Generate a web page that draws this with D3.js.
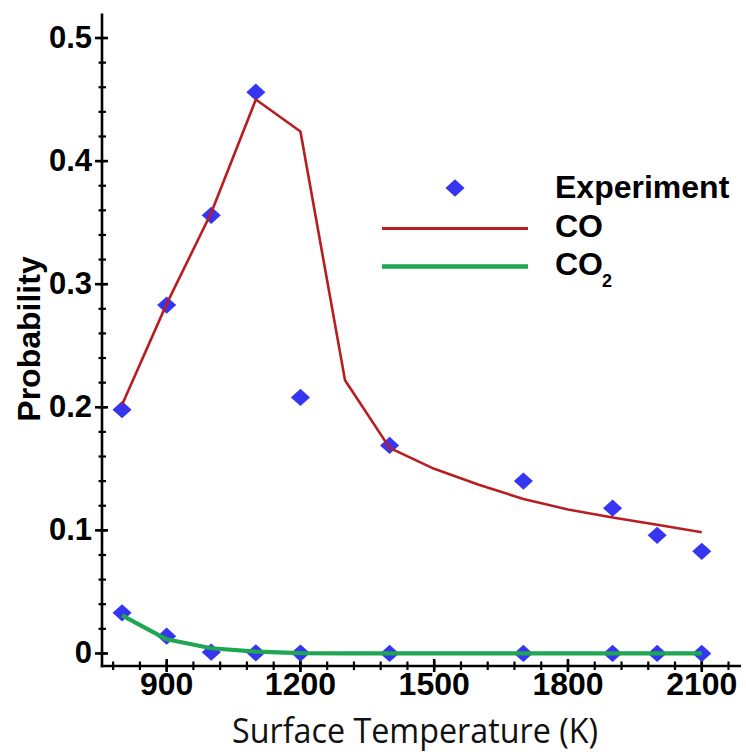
<!DOCTYPE html>
<html>
<head>
<meta charset="utf-8">
<script src="https://cdn.jsdelivr.net/npm/d3@7"></script>
<style>
  html, body { margin: 0; padding: 0; background: #fff; }
  svg { display: block; }
</style>
</head>
<body>
<div id="chart"></div>
<script>
// ---- Data ----
const expTemps = [800, 900, 1000, 1100, 1200, 1400, 1700, 1900, 2000, 2100];
const expCO    = [0.198, 0.283, 0.356, 0.456, 0.208, 0.169, 0.140, 0.118, 0.096, 0.083];
const expCO2   = [0.033, 0.014, 0.001, 0.0005, 0.0003, 0, 0, 0, 0, 0];

const modelTemps = [800, 900, 1000, 1100, 1200, 1300, 1400, 1500, 1600, 1700, 1800, 1900, 2000, 2100];
const modelCO    = [0.202, 0.284, 0.358, 0.450, 0.424, 0.222, 0.167, 0.150, 0.137, 0.1255, 0.117, 0.1105, 0.1045, 0.0985];
const modelCO2   = [0.031, 0.0115, 0.0042, 0.0015, 0.0003, 0.0001, 0, 0, 0, 0, 0, 0, 0, 0];

const xMajorTicks = [900, 1200, 1500, 1800, 2100];
const xMinorTicks = d3.range(780, 2161, 60);
const yMajorTicks = [0, 0.1, 0.2, 0.3, 0.4, 0.5];
const yTickLabels = ["0", "0.1", "0.2", "0.3", "0.4", "0.5"];
const yMinorTicks = d3.range(0, 0.501, 0.02);

const legendItems = ["Experiment", "CO", "CO"];

// ---- Layout ----
const W = 746, H = 752;
const svg = d3.select("#chart").append("svg").attr("width", W).attr("height", H);

const x = d3.scaleLinear().domain([755, 2188]).range([102, 741]);
const y = d3.scaleLinear().domain([-0.0102, 0.52]).range([666, 13.4]);

const colRed = "#b81d22";
const colGreen = "#1ea653";
const colBlue = "#3535f2";
const boldFont = "'Liberation Sans', Arial, Helvetica, sans-serif";

// ---- Axes ----
const axes = svg.append("g").attr("stroke", "#000").attr("stroke-width", 2.6);
axes.append("line").attr("x1", x.range()[0]).attr("x2", x.range()[0])
  .attr("y1", y.range()[1]).attr("y2", y.range()[0] + 1.3);
axes.append("line").attr("x1", x.range()[0] - 1.3).attr("x2", x.range()[1])
  .attr("y1", y.range()[0]).attr("y2", y.range()[0]);

// y ticks
axes.selectAll(".yminor").data(yMinorTicks).enter().append("line")
  .attr("x1", x.range()[0] - 3.5).attr("x2", x.range()[0] + 4)
  .attr("y1", d => y(d)).attr("y2", d => y(d)).attr("stroke-width", 2.2);
axes.selectAll(".ymajor").data(yMajorTicks).enter().append("line")
  .attr("x1", x.range()[0] - 7).attr("x2", x.range()[0] + 6)
  .attr("y1", d => y(d)).attr("y2", d => y(d));

// x ticks
axes.selectAll(".xminor").data(xMinorTicks).enter().append("line")
  .attr("x1", d => x(d)).attr("x2", d => x(d))
  .attr("y1", y.range()[0] - 4.5).attr("y2", y.range()[0] + 4)
  .attr("stroke-width", 2.2);
axes.selectAll(".xmajor").data(xMajorTicks).enter().append("line")
  .attr("x1", d => x(d)).attr("x2", d => x(d))
  .attr("y1", y.range()[0] - 7).attr("y2", y.range()[0] + 6);

// tick labels
svg.append("g").selectAll("text").data(yMajorTicks).enter().append("text")
  .attr("x", 92).attr("y", d => y(d) + 9.5)
  .attr("text-anchor", "end")
  .attr("font-family", boldFont).attr("font-weight", "bold").attr("font-size", 31)
  .text((d, i) => yTickLabels[i]);

svg.append("g").selectAll("text").data(xMajorTicks).enter().append("text")
  .attr("x", d => x(d)).attr("y", 695)
  .attr("text-anchor", "middle")
  .attr("font-family", boldFont).attr("font-weight", "bold").attr("font-size", 32)
  .text(d => d);

// axis titles
svg.append("text")
  .attr("transform", "translate(40,339) rotate(-90)")
  .attr("text-anchor", "middle")
  .attr("font-family", boldFont).attr("font-weight", "bold").attr("font-size", 32)
  .text("Probability");

svg.append("text")
  .attr("x", 232).attr("y", 743)
  .attr("textLength", 366).attr("lengthAdjust", "spacingAndGlyphs")
  .attr("font-family", "'Open Sans', 'Noto Sans', sans-serif").attr("font-size", 34)
  .attr("fill", "#111")
  .text("Surface Temperature (K)");

// ---- Series ----
const diamond = d3.symbol().type(d3.symbolSquare).size(165);

const line = d3.line().x(d => x(d[0])).y(d => y(d[1]));

svg.append("g").selectAll("path").data(expTemps.map((t, i) => [t, expCO[i]]).concat(expTemps.map((t, i) => [t, expCO2[i]])))
  .enter().append("path")
  .attr("d", diamond)
  .attr("transform", d => `translate(${x(d[0])},${y(d[1])}) scale(1.05,0.95) rotate(45)`)
  .attr("fill", colBlue);

svg.append("path")
  .datum(modelTemps.map((t, i) => [t, modelCO[i]]))
  .attr("d", line).attr("fill", "none")
  .attr("stroke", colRed).attr("stroke-width", 2.6).attr("stroke-linejoin", "round");

svg.append("path")
  .datum(modelTemps.map((t, i) => [t, modelCO2[i]]))
  .attr("d", line).attr("fill", "none")
  .attr("stroke", colGreen).attr("stroke-width", 4.2).attr("stroke-linejoin", "round");

// ---- Legend ----
const lg = svg.append("g");
lg.append("path").attr("d", diamond).attr("transform", "translate(455,188) scale(1.05,0.95) rotate(45)").attr("fill", colBlue);
lg.append("line").attr("x1", 382).attr("x2", 528).attr("y1", 228.5).attr("y2", 228.5)
  .attr("stroke", colRed).attr("stroke-width", 3);
lg.append("line").attr("x1", 382).attr("x2", 528).attr("y1", 266.5).attr("y2", 266.5)
  .attr("stroke", colGreen).attr("stroke-width", 4.5);

const ly = [198, 237, 275];
lg.selectAll("text.item").data(legendItems).enter().append("text")
  .attr("class", "item")
  .attr("x", 555).attr("y", (d, i) => ly[i])
  .attr("font-family", boldFont).attr("font-weight", "bold").attr("font-size", 32)
  .text(d => d);
lg.append("text").attr("x", 602).attr("y", 287)
  .attr("font-family", boldFont).attr("font-weight", "bold").attr("font-size", 18)
  .text("2");
</script>
</body>
</html>
